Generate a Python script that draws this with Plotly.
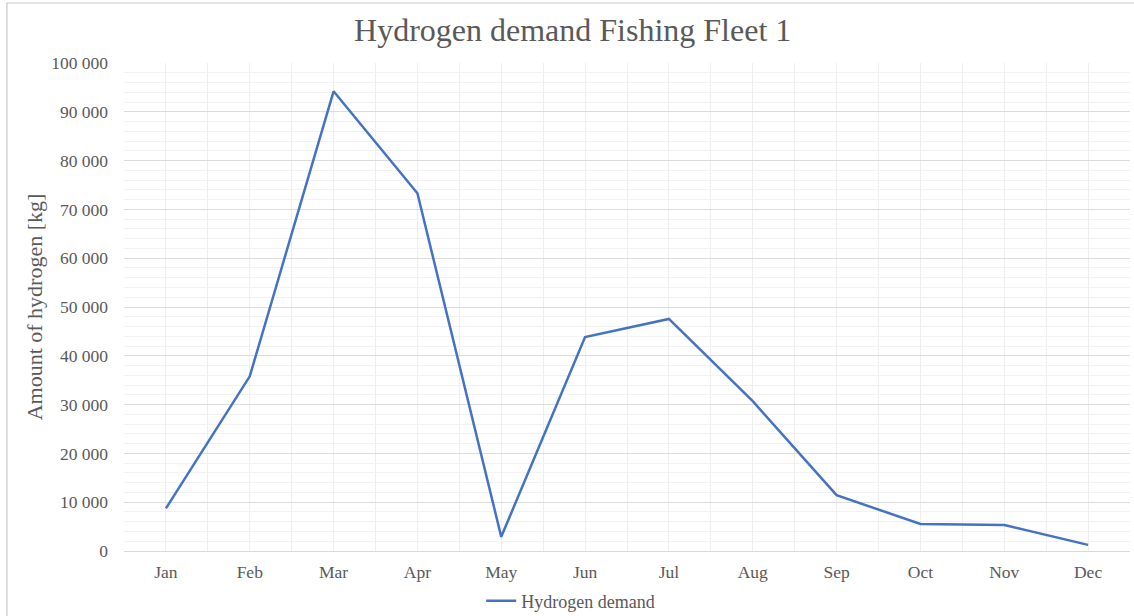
import plotly.graph_objects as go

months = ["Jan", "Feb", "Mar", "Apr", "May", "Jun", "Jul", "Aug", "Sep", "Oct", "Nov", "Dec"]
demand_kg = [8750, 35800, 94200, 73300, 2900, 43850, 47550, 30700, 11450, 5530, 5330, 1250]
y_ticks = [0, 10000, 20000, 30000, 40000, 50000, 60000, 70000, 80000, 90000, 100000]
y_tick_text = ["0", "10 000", "20 000", "30 000", "40 000", "50 000", "60 000",
               "70 000", "80 000", "90 000", "100 000"]

serif = "Liberation Serif, Times New Roman, serif"
text_grey = "#595959"

fig = go.Figure()
fig.add_trace(go.Scatter(
    x=list(range(len(months))),
    y=demand_kg,
    mode="lines",
    name="Hydrogen demand",
    line=dict(color="#4472C4", width=2.5),
))

fig.update_layout(
    width=1134, height=616,
    margin=dict(l=124, r=4, t=63, b=65, autoexpand=False),
    paper_bgcolor="white",
    plot_bgcolor="white",
    font=dict(family=serif, color=text_grey, size=17.5),
    title=dict(
        text="Hydrogen demand Fishing Fleet 1",
        font=dict(family=serif, size=32, color=text_grey),
        x=0.505, xref="container", xanchor="center",
        y=0.951, yref="container", yanchor="middle",
    ),
    showlegend=True,
    legend=dict(
        orientation="h",
        xref="paper", x=0.444, xanchor="center",
        yref="paper", y=-0.1025, yanchor="middle",
        font=dict(family=serif, size=18, color=text_grey),
        bgcolor="rgba(0,0,0,0)",
        itemwidth=30,
    ),
    shapes=[dict(
        type="rect", xref="paper", yref="paper",
        x0=-0.1164, x1=1.02, y0=-0.2, y1=1.123,
        line=dict(color="#c8c8c8", width=1.2),
        fillcolor="rgba(0,0,0,0)", layer="below",
    )],
)

fig.update_xaxes(
    range=[-0.5, len(months) - 0.5],
    tickmode="array",
    tickvals=list(range(len(months))),
    ticktext=months,
    showgrid=True, gridcolor="#efefef", gridwidth=1,
    minor=dict(tickmode="linear", tick0=-0.5, dtick=1, showgrid=True,
               gridcolor="#efefef", gridwidth=1),
    showline=False, zeroline=False, ticks="",
    automargin=False,
    ticklabelstandoff=8,
    tickfont=dict(family=serif, size=17.5, color=text_grey),
)

fig.update_yaxes(
    range=[0, 100000],
    tickmode="array",
    tickvals=y_ticks,
    ticktext=y_tick_text,
    showgrid=True, gridcolor="#dcdcdc", gridwidth=1,
    minor=dict(tickmode="linear", tick0=0, dtick=2000, showgrid=True,
               gridcolor="#f2f2f2", gridwidth=1),
    zeroline=True, zerolinecolor="#d9d9d9", zerolinewidth=1.2,
    showline=False, ticks="",
    automargin=False,
    ticklabelstandoff=15,
    tickfont=dict(family=serif, size=17.5, color=text_grey),
    title=dict(text="Amount of hydrogen [kg]",
               font=dict(family=serif, size=22, color=text_grey),
               standoff=2),
)

fig.write_html("out.html")
